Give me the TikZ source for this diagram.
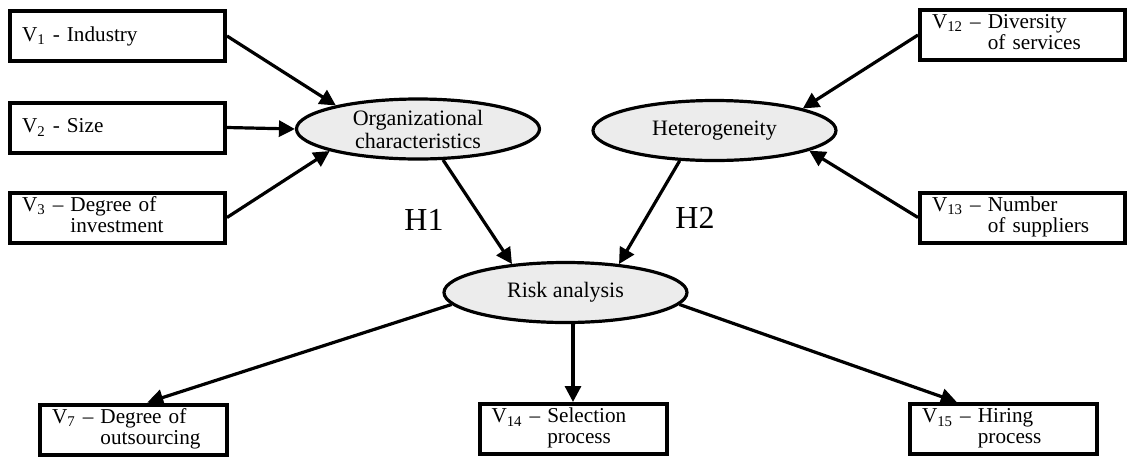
\documentclass[tikz,border=0pt]{standalone}
\usepackage{fontspec}
\setmainfont{Liberation Serif}
\usetikzlibrary{positioning, arrows.meta, shapes.geometric}

\tikzset{
  varbox/.style={draw, line width=2pt, inner xsep=6pt, inner ysep=0pt,
    minimum height=25pt, align=left, font=\fontsize{10.6}{10.4}\selectfont},
  leftbox/.style={varbox, text width=95.5pt},
  rightbox/.style={varbox, text width=90.5pt},
  lowbox/.style={varbox, text width=81.5pt},
  construct/.style={ellipse, draw, line width=1.6pt, fill=gray!15,
    minimum width=121.5pt, minimum height=30pt, inner sep=0pt,
    align=center, font=\fontsize{11}{11.5}\selectfont},
  link/.style={-{Triangle[length=8pt,width=8pt]}, line width=1.6pt},
  hyp/.style={font=\fontsize{16}{18}\selectfont}
}

\begin{document}
\begin{tikzpicture}[x=0.5pt, y=-0.5pt]
\useasboundingbox (0,0) rectangle (1130,456);

% ---------- CONSTRUCTS ----------

\node[construct] (org) at (418,129) {Organizational\\characteristics};
\node[construct] (het) at (714.5,130.5) {Heterogeneity};
\node[construct] (risk) at (565.5,292.5) {Risk analysis};

% ---------- LEFT ----------

\node[leftbox] (v1) at (117.5,36) {V\textsubscript{1} - Industry};
\node[leftbox] (v2) at (117.5,127.5) {V\textsubscript{2} - Size};
\node[leftbox] (v3) at (117.5,217.5) {\begin{tabular}{@{}l@{ }l@{}}V\textsubscript{3} -- & Degree of\\ & investment\end{tabular}};

% ---------- RIGHT ----------

\node[rightbox] (v12) at (1022.5,35) {\begin{tabular}{@{}l@{ }l@{}}V\textsubscript{12} -- & Diversity\\ & of services\end{tabular}};
\node[rightbox] (v13) at (1022.5,217.5) {\begin{tabular}{@{}l@{ }l@{}}V\textsubscript{13} -- & Number\\ & of suppliers\end{tabular}};

% ---------- BOTTOM ----------

\node[lowbox] (v7) at (133.5,429.5) {\begin{tabular}{@{}l@{ }l@{}}V\textsubscript{7} -- & Degree of\\ & outsourcing\end{tabular}};
\node[lowbox] (v14) at (573,429) {\begin{tabular}{@{}l@{ }l@{}}V\textsubscript{14} -- & Selection\\ & process\end{tabular}};
\node[lowbox] (v15) at (1003.5,429) {\begin{tabular}{@{}l@{ }l@{}}V\textsubscript{15} -- & Hiring\\ & process\end{tabular}};

% ---------- ARROWS ----------

\draw[link] (v1.east) -- (org.164);
\draw[link] (v2.east) -- (org.west);
\draw[link] (v3.east) -- (org.194);
\draw[link] (v12.west) -- (het.14);
\draw[link] (v13.west) -- (het.-12);
\draw[link] (org.-51) -- (risk.152);
\draw[link] (het.221) -- (risk.28);
\draw[link] (risk.186) -- (v7.63);
\draw[link] (risk.south -| v14.north) -- (v14.north);
\draw[link] (risk.-6) -- (v15.150);

\node[hyp] (h1) at (424,220) {H1};
\node[hyp] (h2) at (695,218) {H2};

\end{tikzpicture}
\end{document}
